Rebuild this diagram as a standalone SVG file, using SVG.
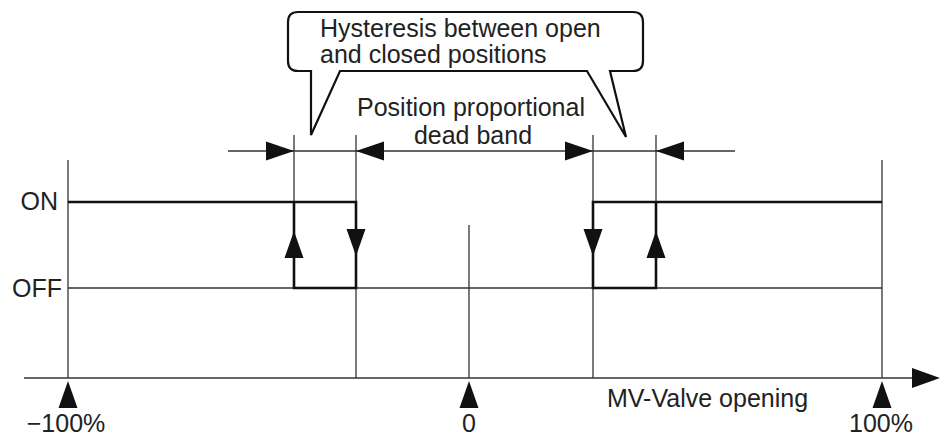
<svg xmlns="http://www.w3.org/2000/svg" width="944" height="436" viewBox="0 0 944 436">
<style>
.thin{stroke:#333;stroke-width:1.3;fill:none}
.thick{stroke:#111;stroke-width:2.6;fill:none;stroke-linejoin:miter}
.ah{fill:#111;stroke:none}
text{font-family:"Liberation Sans",Arial,sans-serif;font-size:25px;fill:#222}
</style>
<rect width="944" height="436" fill="#fff"/>
<g id="connectors">
  <line class="thin" x1="24" y1="378" x2="914" y2="378"/>
  <polygon class="ah" points="912,368 940,378 912,388"/>
  <line class="thin" x1="68" y1="160" x2="68" y2="378"/>
  <line class="thin" x1="882" y1="160" x2="882" y2="378"/>
  <line class="thin" x1="469" y1="225" x2="469" y2="378"/>
  <line class="thin" x1="294" y1="135" x2="294" y2="288"/>
  <line class="thin" x1="356" y1="135" x2="356" y2="378"/>
  <line class="thin" x1="593" y1="135" x2="593" y2="378"/>
  <line class="thin" x1="656" y1="135" x2="656" y2="288"/>
  <line class="thin" x1="68" y1="288" x2="882" y2="288"/>
  <line class="thin" x1="228" y1="151" x2="735" y2="151"/>
  <polygon class="ah" points="266,141.5 294,151 266,160.5"/>
  <polygon class="ah" points="384,141.5 356,151 384,160.5"/>
  <polygon class="ah" points="565,141.5 593,151 565,160.5"/>
  <polygon class="ah" points="684,141.5 656,151 684,160.5"/>
  <path class="thick" d="M68,202 H356 V288 H294 V202"/>
  <path class="thick" d="M882,202 H656 V288 H593 V202 H656"/>
  <polygon class="ah" points="294,231 303.5,258 284.5,258"/>
  <polygon class="ah" points="356,256 365.5,229 346.5,229"/>
  <polygon class="ah" points="593,256 602.5,229 583.5,229"/>
  <polygon class="ah" points="656,231 665.5,258 646.5,258"/>
  <polygon class="ah" points="68,381 77.5,408 58.5,408"/>
  <polygon class="ah" points="469,381 478.5,408 459.5,408"/>
  <polygon class="ah" points="882,381 891.5,408 872.5,408"/>
</g>
<g id="callout">
  <path d="M298,12 H633 Q643,12 643,22 V61 Q643,71 633,71 H610 L626,137 L587,71 H340 L311,135 V71 H298 Q288,71 288,61 V22 Q288,12 298,12 Z" fill="#fff" stroke="#111" stroke-width="2.2" stroke-linejoin="miter"/>
  <text x="320" y="37">Hysteresis between open</text>
  <text x="320" y="63">and closed positions</text>
</g>
<g id="deadband-label">
  <text x="471" y="116" text-anchor="middle">Position proportional</text>
  <text x="473" y="144" text-anchor="middle">dead band</text>
</g>
<g id="on-label"><text x="58" y="210" text-anchor="end">ON</text></g>
<g id="off-label"><text x="62" y="297" text-anchor="end">OFF</text></g>
<g id="axis-label"><text x="607" y="407">MV-Valve opening</text></g>
<g id="tick-labels">
  <text x="66" y="432" text-anchor="middle">−100%</text>
  <text x="469" y="432" text-anchor="middle">0</text>
  <text x="881" y="432" text-anchor="middle">100%</text>
</g>
</svg>
